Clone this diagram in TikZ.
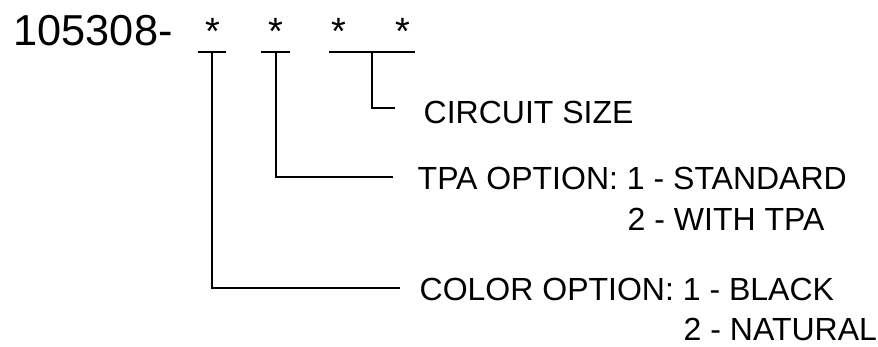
\documentclass[tikz,border=0pt]{standalone}
\usepackage{fontspec}
\setmainfont{Liberation Sans}
\begin{document}
\begin{tikzpicture}[x=1pt,y=-1pt,
  lbl/.style={inner sep=0pt, anchor=base west, font=\fontsize{32}{38}\selectfont},
  big/.style={inner sep=0pt, anchor=base west, font=\fontsize{43.3}{50}\selectfont},
  star/.style={inner sep=0pt, anchor=base, font=\fontsize{38}{44}\selectfont},
  wire/.style={line width=1.6pt, line cap=butt, line join=miter}]
\useasboundingbox (0,0) rectangle (878,346);
\node[big] (pn) at (13.5,45) {105308-};
\node[star] (s1) at (213,44) {*};
\node[star] (s2) at (276,44) {*};
\node[star] (s3) at (339,44) {*};
\node[star] (s4) at (403,44) {*};
% underlines
\coordinate (a1) at (198,52); \coordinate (b1) at (226,52);
\coordinate (a2) at (261,52); \coordinate (b2) at (290,52);
\coordinate (a3) at (329,52); \coordinate (b3) at (415,52);
\draw[wire] (a1) -- (b1);
\draw[wire] (a2) -- (b2);
\draw[wire] (a3) -- (b3);
\coordinate (u1) at (212,52);
\coordinate (u2) at (276,52);
\coordinate (u3) at (372,52);
% labels
\node[lbl] (circ) at (423.5,123) {CIRCUIT SIZE};
\node[lbl] (tpa) at (417.5,189) {TPA OPTION: 1 - STANDARD};
\node[lbl] (tpa2) at (627.5,230) {2 - WITH TPA};
\node[lbl] (col) at (419.5,300) {COLOR OPTION: 1 - BLACK};
\node[lbl] (col2) at (683.5,340) {2 - NATURAL};
% connectors
\coordinate (e3) at (395,108);
\coordinate (e2) at (393,177);
\coordinate (e1) at (400,288);
\draw[wire] (u3) |- (e3);
\draw[wire] (u2) |- (e2);
\draw[wire] (u1) |- (e1);
\end{tikzpicture}
\end{document}
